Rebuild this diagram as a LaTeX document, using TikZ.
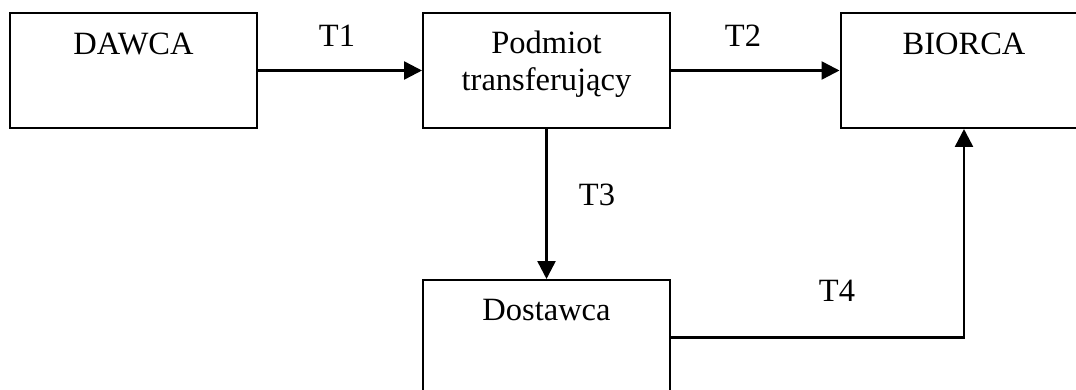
\documentclass[tikz,border=0pt]{standalone}
\usepackage{fontspec}
\setmainfont{Liberation Serif}
\usetikzlibrary{arrows.meta}
\begin{document}
\begin{tikzpicture}[x=1pt,y=-1pt,
  box/.style={draw,line width=2pt,minimum width=247pt,minimum height=115pt,inner sep=0pt},
  txt/.style={inner sep=0pt,anchor=base,font=\fontsize{32.5}{38}\selectfont},
  flow/.style={line width=2.5pt,-{Triangle[length=18pt,width=18pt]}}]
\useasboundingbox (0,0) rectangle (1076,390);
\clip (0,0) rectangle (1076,390);
% boxes
\node[box] (dawca) at (133.5,70.5) {};
\node[box] (podmiot) at (546.5,70.5) {};
\node[box] (biorca) at (964,70.5) {};
\node[box] (dostawca) at (546.5,337.5) {};
% box titles
\node[txt] (tdawca) at (133.5,55) {DAWCA};
\node[txt] (tpodmiot1) at (546.5,53.3) {Podmiot};
\node[txt] (tpodmiot2) at (546.5,90.5) {transferujący};
\node[txt] (tbiorca) at (964,55) {BIORCA};
\node[txt] (tdostawca) at (546.5,320) {Dostawca};
% flows
\draw[flow] (dawca) -- (podmiot);
\draw[flow] (podmiot) -- (biorca);
\draw[flow] (podmiot) -- (dostawca);
\draw[flow] (dostawca.east) -| (biorca.south);
% flow labels
\node[txt] (t1) at (337,46.7) {T1};
\node[txt] (t2) at (743,46.7) {T2};
\node[txt] (t3) at (597,206) {T3};
\node[txt] (t4) at (837,301.7) {T4};
\end{tikzpicture}
\end{document}
